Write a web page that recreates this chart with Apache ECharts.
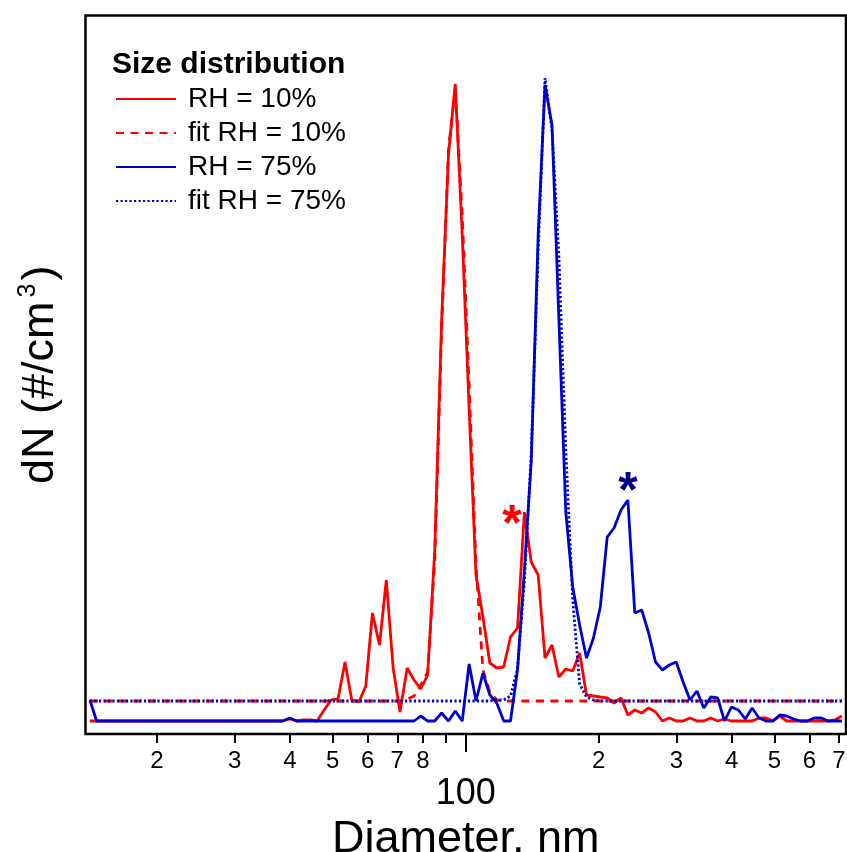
<!DOCTYPE html>
<html>
<head>
<meta charset="utf-8">
<script src="https://cdn.jsdelivr.net/npm/echarts@6/dist/echarts.min.js"></script>
<style>
  html, body { margin: 0; padding: 0; background: #fff; }
  #chart { width: 847px; height: 852px; }
</style>
</head>
<body>
<div id="chart"></div>
<script>
// SMPS channel mid-point diameters (nm), 64 channels per decade
const diameters = [
  14.1, 14.6, 15.1, 15.7, 16.3, 16.8, 17.5, 18.1, 18.8, 19.5,
  20.2, 20.9, 21.7, 22.5, 23.3, 24.1, 25.0, 25.9, 26.9, 27.9,
  28.9, 30.0, 31.1, 32.2, 33.4, 34.6, 35.9, 37.2, 38.5, 40.0,
  41.4, 42.9, 44.5, 46.1, 47.8, 49.6, 51.4, 53.3, 55.2, 57.3,
  59.4, 61.5, 63.8, 66.1, 68.5, 71.0, 73.7, 76.4, 79.1, 82.0,
  85.1, 88.2, 91.4, 94.7, 98.2, 101.8, 105.5, 109.4, 113.4, 117.6,
  121.9, 126.3, 131.0, 135.8, 140.7, 145.9, 151.2, 156.8, 162.5, 168.5,
  174.7, 181.1, 187.7, 194.6, 201.7, 209.1, 216.7, 224.7, 232.9, 241.4,
  250.3, 259.5, 269.0, 278.8, 289.0, 299.6, 310.6, 322.0, 333.8, 346.0,
  358.7, 371.8, 385.4, 399.5, 414.2, 429.4, 445.1, 461.4, 478.3, 495.8,
  514.0, 532.8, 552.3, 572.5, 593.5, 615.3, 637.8, 661.2, 685.4, 710.5
];

// dN, RH = 10% (measured)
const rh10 = [
  0, 0, 0, 0, 0, 0, 0, 0, 0, 0,
  0, 0, 0, 0, 0, 0, 0, 0, 0, 0,
  0, 0, 0, 0, 0, 0, 0, 0, 0, 2,
  0, 1, 1, 0, 11, 21, 22, 59, 21, 19,
  35, 108, 76, 141, 53, 9, 53, 41, 32, 46,
  171, 401, 566, 637, 486, 312, 146, 104, 58, 53,
  54, 84, 93, 209, 159, 146, 63, 76, 44, 52,
  50, 68, 26, 25, 24, 23, 18, 23, 6, 11,
  8, 13, 9, 0, 3, 0, 0, 3, 0, 0,
  3, 0, 2, 0, 0, 0, 0, 3, 3, 0,
  5, 0, 0, 0, 0, 0, 0, 0, 1, 5
];

// dN, RH = 10% (log-normal fit)
const rh10Fit = [
  20, 20, 20, 20, 20, 20, 20, 20, 20, 20,
  20, 20, 20, 20, 20, 20, 20, 20, 20, 20,
  20, 20, 20, 20, 20, 20, 20, 20, 20, 20,
  20, 20, 20, 20, 20, 20, 20, 20, 20, 20,
  20, 20, 20, 20, 20, 20, 22, 25, 36, 49,
  161, 391, 571, 634, 506, 336, 156, 51, 29, 21,
  20, 20, 20, 20, 20, 20, 20, 20, 20, 20,
  20, 20, 20, 20, 20, 20, 20, 20, 20, 20,
  20, 20, 20, 20, 20, 20, 20, 20, 20, 20,
  20, 20, 20, 20, 20, 20, 20, 20, 20, 20,
  20, 20, 20, 20, 20, 20, 20, 20, 20, 20
];

// dN, RH = 75% (measured)
const rh75 = [
  21, 0, 0, 0, 0, 0, 0, 0, 0, 0,
  0, 0, 0, 0, 0, 0, 0, 0, 0, 0,
  0, 0, 0, 0, 0, 0, 0, 0, 0, 3,
  0, 0, 0, 0, 0, 0, 0, 0, 0, 0,
  0, 0, 0, 0, 0, 0, 0, 0, 5, 0,
  0, 8, 0, 10, 0, 57, 20, 48, 26, 18,
  0, 0, 51, 151, 259, 486, 636, 596, 403, 209,
  134, 96, 63, 83, 114, 184, 193, 211, 221, 108,
  111, 88, 59, 51, 56, 59, 39, 21, 30, 13,
  24, 23, 0, 14, 11, 2, 13, 3, 0, 0,
  6, 5, 2, 0, 0, 3, 3, 0, 0, 0
];

// dN, RH = 75% (log-normal fit)
const rh75Fit = [
  20, 20, 20, 20, 20, 20, 20, 20, 20, 20,
  20, 20, 20, 20, 20, 20, 20, 20, 20, 20,
  20, 20, 20, 20, 20, 20, 20, 20, 20, 20,
  20, 20, 20, 20, 20, 20, 20, 20, 20, 20,
  20, 20, 20, 20, 20, 20, 20, 20, 20, 20,
  20, 20, 20, 20, 20, 20, 20, 20, 20, 21,
  21, 25, 52, 141, 266, 471, 643, 591, 466, 271,
  121, 37, 24, 21, 20, 20, 20, 20, 20, 20,
  20, 20, 20, 20, 20, 20, 20, 20, 20, 20,
  20, 20, 20, 20, 20, 20, 20, 20, 20, 20,
  20, 20, 20, 20, 20, 20, 20, 20, 20, 20
];

// Axis ticks (nm) and their labels
const minorTickValues = [20, 30, 40, 50, 60, 70, 80, 90, 200, 300, 400, 500, 600, 700];
const minorTickLabels = ['2', '3', '4', '5', '6', '7', '8', '', '2', '3', '4', '5', '6', '7'];
const majorTickValues = [100];
const majorTickLabels = ['100'];

// Asterisks marking the secondary modes: [diameter, dN]
const redStar = [127.3, 206];
const blueStar = [233.1, 239];

const X_MIN = 13.78;
const X_MAX = 726;
const Y_MIN = -13;
const Y_MAX = 705.5;

const FONT = '"Liberation Sans", Arial, Helvetica, sans-serif';
const RED = '#ff0000';
const BLUE = '#0000cc';
const LINE_W = 2.8;

const toPairs = (vals) => diameters.map((d, i) => [d, vals[i]]);
const lg = (v) => Math.log10(v);

function labelFor(values, labels) {
  return function (v) {
    let best = 0, bestErr = Infinity;
    values.forEach((t, i) => {
      const e = Math.abs(lg(t) - v);
      if (e < bestErr) { bestErr = e; best = i; }
    });
    return labels[best];
  };
}

const starLabel = (color) => ({
  show: true,
  formatter: '*',
  position: 'inside',
  fontSize: 50,
  fontWeight: 'bold',
  fontFamily: FONT,
  color: color,
  offset: [0, 11]
});

const chart = echarts.init(document.getElementById('chart'), null, { renderer: 'canvas' });

chart.setOption({
  animation: false,
  backgroundColor: '#ffffff',
  title: {
    text: 'Size distribution',
    left: 112,
    top: 50,
    padding: 0,
    textStyle: { fontSize: 30, fontWeight: 'bold', fontFamily: FONT, color: '#000' }
  },
  legend: {
    orient: 'vertical',
    left: 110,
    top: 80,
    itemWidth: 60,
    itemHeight: 14,
    itemGap: 6,
    itemStyle: { opacity: 0 },
    textStyle: { fontSize: 28, fontFamily: FONT, color: '#000', padding: [0, 0, 0, 7] },
    data: ['RH = 10%', 'fit RH = 10%', 'RH = 75%', 'fit RH = 75%']
  },
  grid: {
    left: 85.5,
    top: 15.5,
    right: 1,
    bottom: 118,
    show: true,
    borderColor: '#000',
    borderWidth: 2.5,
    backgroundColor: 'transparent',
    containLabel: false,
    outerBoundsMode: 'none'
  },
  xAxis: [
    {
      // data axis: logarithmic diameter scale
      type: 'log',
      logBase: 10,
      min: X_MIN,
      max: X_MAX,
      show: false
    },
    {
      // minor ticks, labelled with the leading digit
      type: 'value',
      position: 'bottom',
      min: lg(X_MIN),
      max: lg(X_MAX),
      axisLine: { show: false },
      splitLine: { show: false },
      axisTick: {
        show: true,
        customValues: minorTickValues.map(lg),
        length: 9,
        lineStyle: { color: '#000', width: 2 }
      },
      axisLabel: {
        customValues: minorTickValues.map(lg),
        formatter: labelFor(minorTickValues, minorTickLabels),
        fontSize: 24,
        fontFamily: FONT,
        color: '#000',
        margin: 15
      }
    },
    {
      // decade tick and axis title
      type: 'value',
      position: 'bottom',
      min: lg(X_MIN),
      max: lg(X_MAX),
      axisLine: { show: false },
      splitLine: { show: false },
      axisTick: {
        show: true,
        customValues: majorTickValues.map(lg),
        length: 18,
        lineStyle: { color: '#000', width: 2 }
      },
      axisLabel: {
        customValues: majorTickValues.map(lg),
        formatter: labelFor(majorTickValues, majorTickLabels),
        fontSize: 36,
        fontFamily: FONT,
        color: '#000',
        margin: 42
      },
      name: 'Diameter, nm',
      nameLocation: 'middle',
      nameGap: 75,
      nameTextStyle: { fontSize: 45, fontFamily: FONT, color: '#000' }
    }
  ],
  yAxis: {
    type: 'value',
    min: Y_MIN,
    max: Y_MAX,
    axisLine: { show: false },
    axisTick: { show: false },
    axisLabel: { show: false },
    splitLine: { show: false },
    name: '{a|dN (#/cm}{s|3}{a|)}',
    nameLocation: 'middle',
    nameRotate: 90,
    nameGap: 20,
    nameTextStyle: {
      fontSize: 45,
      fontFamily: FONT,
      color: '#000',
      rich: {
        a: { fontSize: 45, fontFamily: FONT, color: '#000', lineHeight: 50 },
        s: { fontSize: 25, fontFamily: FONT, color: '#000', verticalAlign: 'top', lineHeight: 22, padding: [0, 3, 0, 4] }
      }
    }
  },
  series: [
    {
      name: 'RH = 10%',
      type: 'line',
      xAxisIndex: 0,
      data: toPairs(rh10),
      showSymbol: false,
      symbol: 'none',
      lineStyle: { color: RED, width: LINE_W },
      itemStyle: { color: RED },
      markPoint: {
        symbol: 'circle',
        symbolSize: 1,
        itemStyle: { color: 'rgba(0,0,0,0)' },
        label: starLabel(RED),
        data: [{ coord: redStar }]
      }
    },
    {
      name: 'fit RH = 10%',
      type: 'line',
      xAxisIndex: 0,
      data: toPairs(rh10Fit),
      showSymbol: false,
      symbol: 'none',
      lineStyle: { color: RED, width: LINE_W, type: [8, 6.5] },
      itemStyle: { color: RED }
    },
    {
      name: 'RH = 75%',
      type: 'line',
      xAxisIndex: 0,
      data: toPairs(rh75),
      showSymbol: false,
      symbol: 'none',
      lineStyle: { color: BLUE, width: LINE_W },
      itemStyle: { color: BLUE },
      markPoint: {
        symbol: 'circle',
        symbolSize: 1,
        itemStyle: { color: 'rgba(0,0,0,0)' },
        label: starLabel('#00008b'),
        data: [{ coord: blueStar }]
      }
    },
    {
      name: 'fit RH = 75%',
      type: 'line',
      xAxisIndex: 0,
      data: toPairs(rh75Fit),
      showSymbol: false,
      symbol: 'none',
      lineStyle: { color: BLUE, width: LINE_W, type: [2.2, 2.3] },
      itemStyle: { color: BLUE }
    }
  ]
});
</script>
</body>
</html>
